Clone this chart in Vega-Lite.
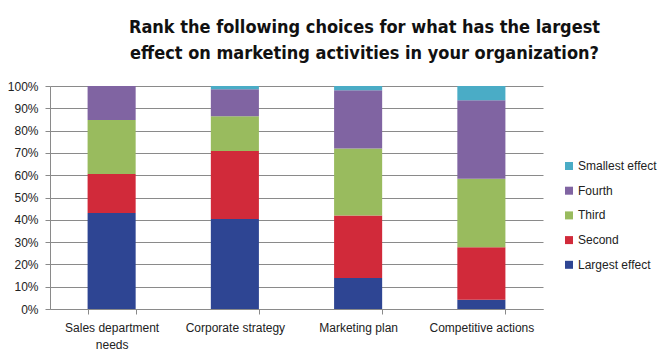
{
  "$schema": "https://vega.github.io/schema/vega-lite/v6.json",
  "width": 493,
  "height": 223,
  "autosize": {"type": "none"},
  "padding": {"left": 50, "top": 86, "right": 129, "bottom": 51},
  "background": "white",
  "title": {
    "text": ["Rank the following choices for what has the largest", "effect on marketing activities in your organization?"],
    "font": "DejaVu Sans Condensed, sans-serif",
    "fontSize": 18,
    "fontWeight": "bold",
    "color": "#111111",
    "anchor": "middle",
    "dx": 68,
    "offset": 17,
    "lineHeight": 26
  },
  "data": {
    "values": [
      {"choice": "Sales department needs", "rank": 1, "level": "Largest effect", "value": 43.0},
      {"choice": "Sales department needs", "rank": 2, "level": "Second", "value": 17.5},
      {"choice": "Sales department needs", "rank": 3, "level": "Third", "value": 24.2},
      {"choice": "Sales department needs", "rank": 4, "level": "Fourth", "value": 15.3},
      {"choice": "Sales department needs", "rank": 5, "level": "Smallest effect", "value": 0.0},
      {"choice": "Corporate strategy", "rank": 1, "level": "Largest effect", "value": 40.4},
      {"choice": "Corporate strategy", "rank": 2, "level": "Second", "value": 30.5},
      {"choice": "Corporate strategy", "rank": 3, "level": "Third", "value": 15.5},
      {"choice": "Corporate strategy", "rank": 4, "level": "Fourth", "value": 12.1},
      {"choice": "Corporate strategy", "rank": 5, "level": "Smallest effect", "value": 1.5},
      {"choice": "Marketing plan", "rank": 1, "level": "Largest effect", "value": 13.9},
      {"choice": "Marketing plan", "rank": 2, "level": "Second", "value": 28.0},
      {"choice": "Marketing plan", "rank": 3, "level": "Third", "value": 30.1},
      {"choice": "Marketing plan", "rank": 4, "level": "Fourth", "value": 26.1},
      {"choice": "Marketing plan", "rank": 5, "level": "Smallest effect", "value": 1.9},
      {"choice": "Competitive actions", "rank": 1, "level": "Largest effect", "value": 4.2},
      {"choice": "Competitive actions", "rank": 2, "level": "Second", "value": 23.5},
      {"choice": "Competitive actions", "rank": 3, "level": "Third", "value": 30.7},
      {"choice": "Competitive actions", "rank": 4, "level": "Fourth", "value": 35.2},
      {"choice": "Competitive actions", "rank": 5, "level": "Smallest effect", "value": 6.4}
    ]
  },
  "mark": {"type": "bar"},
  "encoding": {
    "x": {
      "field": "choice",
      "type": "nominal",
      "sort": ["Sales department needs", "Corporate strategy", "Marketing plan", "Competitive actions"],
      "scale": {"paddingInner": 0.61, "paddingOuter": 0.305},
      "axis": {
        "title": null,
        "labelAngle": 0,
        "labelFont": "Liberation Sans",
        "labelFontSize": 12,
        "labelColor": "#222222",
        "labelPadding": 8,
        "labelLineHeight": 17,
        "labelExpr": "datum.label == 'Sales department needs' ? ['Sales department', 'needs'] : datum.label",
        "domainColor": "#8a8a8a",
        "tickColor": "#8a8a8a",
        "tickSize": 5,
        "tickBand": "extent",
        "grid": false
      }
    },
    "y": {
      "field": "value",
      "type": "quantitative",
      "stack": "normalize",
      "scale": {"domain": [0, 1]},
      "axis": {
        "title": null,
        "values": [0, 0.1, 0.2, 0.3, 0.4, 0.5, 0.6, 0.7, 0.8, 0.9, 1],
        "format": ".0%",
        "labelFont": "Liberation Sans",
        "labelFontSize": 12,
        "labelColor": "#222222",
        "labelPadding": 7,
        "domainColor": "#8a8a8a",
        "tickColor": "#8a8a8a",
        "tickSize": 5,
        "grid": true,
        "gridColor": "#8a8a8a",
        "gridWidth": 1,
        "gridOpacity": 1
      }
    },
    "color": {
      "field": "level",
      "type": "nominal",
      "scale": {
        "domain": ["Smallest effect", "Fourth", "Third", "Second", "Largest effect"],
        "range": ["#4AACC6", "#8064A2", "#99BB5E", "#D12A3A", "#2E4593"]
      },
      "legend": {
        "title": null,
        "orient": "none",
        "legendX": 513,
        "legendY": 74,
        "symbolType": "square",
        "symbolSize": 64,
        "symbolStrokeWidth": 0,
        "labelFont": "Liberation Sans",
        "labelFontSize": 12,
        "labelColor": "#222222",
        "labelOffset": 3,
        "rowPadding": 12.7
      }
    },
    "order": {"field": "rank", "type": "quantitative", "sort": "ascending"}
  },
  "config": {
    "view": {"stroke": null},
    "axis": {"labelFont": "Liberation Sans"}
  }
}
